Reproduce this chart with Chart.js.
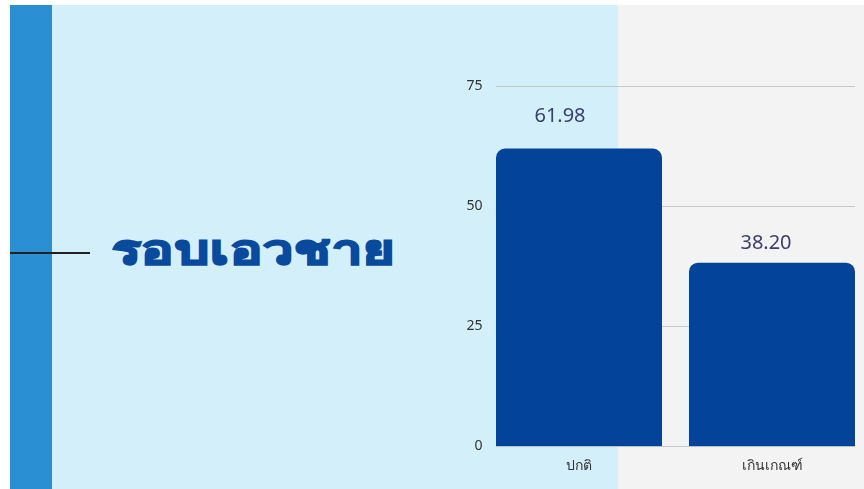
<!DOCTYPE html>
<html>
<head>
<meta charset="utf-8">
<script src="https://cdn.jsdelivr.net/npm/chart.js@4"></script>
<style>
  html, body { margin: 0; padding: 0; width: 864px; height: 489px; overflow: hidden; background: #fff; }
  .strip { position: absolute; left: 10px; top: 5px; width: 42px; height: 484px; background: #2b8fd4; }
  .panel { position: absolute; left: 52px; top: 5px; width: 566px; height: 484px; background: #d3f0fa; }
  .gray { position: absolute; left: 618px; top: 5px; width: 246px; height: 484px; background: #f3f3f3; }
  .rule { position: absolute; left: 10px; top: 252px; width: 80px; height: 2px; background: #222; }
  .title { position: absolute; left: 112px; top: 221px; font-family: "Noto Sans", sans-serif; font-weight: 900;
           font-size: 40px; color: #0a4a9c; line-height: 56px; white-space: nowrap; letter-spacing: 1px;
           -webkit-text-stroke: 2px #0a4a9c; transform: scaleX(1.34); transform-origin: left center; }
  .wrap { position: absolute; left: 440px; top: 5px; width: 440px; height: 484px; }
</style>
</head>
<body>
<div class="strip"></div>
<div class="panel"></div>
<div class="gray"></div>
<div class="rule"></div>
<div class="title">รอบเอวชาย</div>
<div class="wrap"><canvas id="chart"></canvas></div>
<script>
const categories = ['ปกติ', 'เกินเกณฑ์'];
const waistValues = [61.98, 38.20];
const yTicks = [0, 25, 50, 75];

// grid lines run only across the bars
const gridPlugin = {
  id: 'barGrid',
  beforeDatasetsDraw(chart) {
    const ctx = chart.ctx;
    const y = chart.scales.y;
    const bars = chart.getDatasetMeta(0).data;
    const left = bars[0].x - bars[0].width / 2;
    const right = bars[bars.length - 1].x + bars[bars.length - 1].width / 2;
    ctx.save();
    ctx.strokeStyle = '#c4c8c8';
    ctx.lineWidth = 1;
    yTicks.forEach(v => {
      const py = Math.round(y.getPixelForValue(v)) + 0.5;
      ctx.beginPath();
      ctx.moveTo(left, py);
      ctx.lineTo(right, py);
      ctx.stroke();
    });
    ctx.restore();
  }
};

// value labels don't sit exactly on the bar centre in the original
const labelShiftX = [-19, -6];
const labelShiftY = [-32, -19];
const valueLabels = {
  id: 'valueLabels',
  afterDatasetsDraw(chart) {
    const ctx = chart.ctx;
    ctx.save();
    ctx.font = '20px "Noto Sans", sans-serif';
    ctx.fillStyle = '#3a3f6b';
    ctx.textAlign = 'center';
    ctx.textBaseline = 'middle';
    chart.getDatasetMeta(0).data.forEach((bar, i) => {
      ctx.fillText(waistValues[i].toFixed(2), bar.x + labelShiftX[i], bar.y + labelShiftY[i]);
    });
    ctx.restore();
  }
};

new Chart(document.getElementById('chart'), {
  type: 'bar',
  data: {
    labels: categories,
    datasets: [{
      data: waistValues,
      backgroundColor: '#03449a',
      borderRadius: { topLeft: 9, topRight: 9 },
      borderSkipped: 'bottom',
      categoryPercentage: 1,
      barPercentage: 0.86
    }]
  },
  options: {
    responsive: true,
    maintainAspectRatio: false,
    animation: false,
    layout: { padding: { top: 81, right: 11.5, bottom: 4, left: 0 } },
    plugins: { legend: { display: false }, tooltip: { enabled: false } },
    scales: {
      x: {
        grid: { display: false, drawTicks: false },
        border: { display: false },
        ticks: { color: '#333', font: { family: '"Noto Sans", sans-serif', size: 14 }, padding: 11 }
      },
      y: {
        min: 0,
        max: 75,
        afterBuildTicks: axis => { axis.ticks = yTicks.map(v => ({ value: v })); },
        afterFit: axis => { axis.width = 42.5; },
        grid: { display: false, drawTicks: false },
        border: { display: false },
        ticks: { color: '#333', font: { family: '"Noto Sans", sans-serif', size: 14 }, padding: 0 }
      }
    }
  },
  plugins: [gridPlugin, valueLabels]
});
</script>
</body>
</html>
